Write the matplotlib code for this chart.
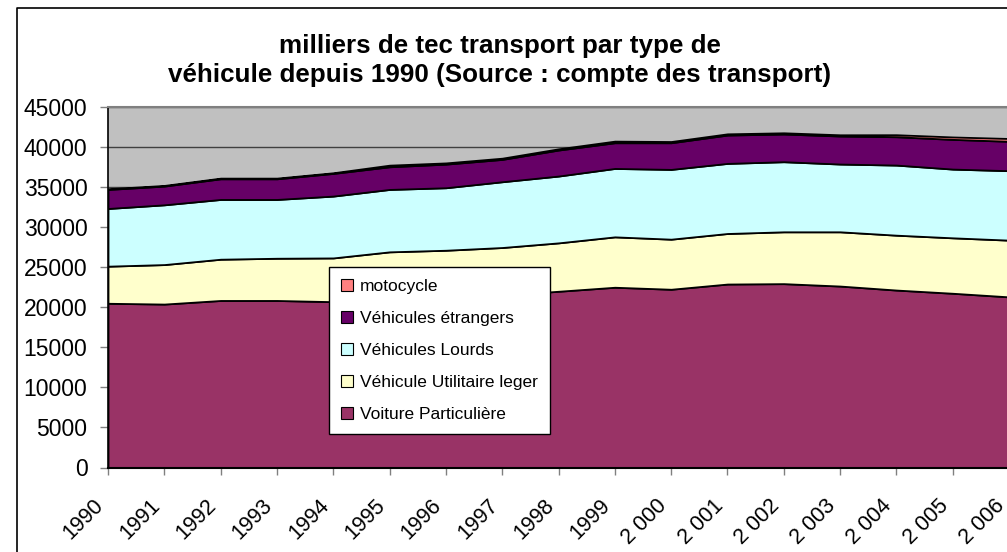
import matplotlib
matplotlib.use("Agg")
import matplotlib.pyplot as plt
from matplotlib.patches import Patch
from matplotlib.lines import Line2D
import matplotlib.transforms as mtransforms

plt.rcParams['font.family'] = ['Liberation Sans', 'DejaVu Sans']

years = ["1990", "1991", "1992", "1993", "1994", "1995", "1996", "1997", "1998",
         "1999", "2 000", "2 001", "2 002", "2 003", "2 004", "2 005", "2 006"]

voiture_particuliere = [20500, 20400, 20850, 20850, 20700, 20900, 21100, 21500, 22000,
                        22500, 22250, 22900, 22950, 22650, 22150, 21750, 21300]
vehicule_utilitaire = [4630, 4930, 5150, 5270, 5460, 6020, 6020, 5960, 6040,
                       6290, 6250, 6310, 6470, 6770, 6850, 6920, 7080]
vehicules_lourds = [7200, 7460, 7460, 7340, 7720, 7790, 7800, 8210, 8340,
                    8540, 8710, 8750, 8750, 8460, 8750, 8580, 8670]
vehicules_etrangers = [2380, 2340, 2580, 2580, 2830, 2830, 2950, 2790, 3250,
                       3210, 3330, 3540, 3460, 3500, 3540, 3710, 3670]
motocycle = [80, 80, 80, 80, 80, 200, 150, 150, 150,
             200, 150, 150, 150, 150, 250, 300, 350]

series_names = ["Voiture Particulière", "Véhicule Utilitaire leger", "Véhicules Lourds",
                "Véhicules étrangers", "motocycle"]
series_colors = ["#993366", "#FFFFCC", "#CCFFFF", "#660066", "#FF8080"]

title = "milliers de tec transport par type de\nvéhicule depuis 1990 (Source : compte des transport)"

W, H = 1007, 552
fig = plt.figure(figsize=(W / 100, H / 100), dpi=100)
fig.patch.set_facecolor("white")

# plot area in pixel coords: left 108, right 1009, top 107, bottom 467.5
ax = fig.add_axes([108 / W, (H - 467.5) / H, (1009 - 108) / W, (467.5 - 107) / H])
ax.set_facecolor("#C0C0C0")

x = list(range(len(years)))
ax.stackplot(x, voiture_particuliere, vehicule_utilitaire, vehicules_lourds,
             vehicules_etrangers, motocycle, colors=series_colors,
             edgecolor="black", linewidth=1.3, zorder=2)

ax.set_xlim(0, len(years) - 1)
ax.set_ylim(0, 45000)
ax.set_yticks(range(0, 45001, 5000))
ax.set_yticklabels([str(v) for v in range(0, 45001, 5000)], fontsize=16.5)
ax.yaxis.grid(True, color="#404040", linewidth=1, zorder=1)
ax.set_axisbelow(True)

ax.set_xticks(x)
ax.set_xticklabels(years, fontsize=15.5, rotation=45, ha="right", va="top")
offset = mtransforms.ScaledTranslation(-8 / 100, 0, fig.dpi_scale_trans)
for lbl in ax.get_xticklabels():
    lbl.set_transform(lbl.get_transform() + offset)

ax.tick_params(axis="x", direction="out", length=5, width=1, color="#808080", pad=15)
ax.tick_params(axis="y", direction="out", length=5.8, width=1, color="#808080", pad=9)

ax.spines["right"].set_visible(False)
ax.spines["top"].set_color("#808080")
ax.spines["top"].set_linewidth(1.5)
ax.spines["left"].set_color("black")
ax.spines["left"].set_linewidth(1.2)
ax.spines["bottom"].set_color("black")
ax.spines["bottom"].set_linewidth(1.5)

# chart area border (left and top visible)
fig.add_artist(Line2D([17 / W, 17 / W, 1.01], [-0.01, 1 - 8 / H, 1 - 8 / H],
                      transform=fig.transFigure, color="black", linewidth=1.2))

fig.text(500 / W, 1 - 60.5 / H, title, ha="center", va="center", fontsize=18.7,
         fontweight="bold", linespacing=1.3)

handles = [Patch(facecolor=c, edgecolor="black", linewidth=0.8) for c in series_colors]
leg = fig.legend(handles[::-1], series_names[::-1], loc="upper left",
                 bbox_to_anchor=(329 / W, 1 - 267 / H), fontsize=12.5,
                 frameon=True, fancybox=False, framealpha=1, edgecolor="black",
                 handlelength=0.7, handleheight=0.7, handletextpad=0.4,
                 labelspacing=0.97, borderpad=0.7, borderaxespad=0)
leg.get_frame().set_linewidth(1)

fig.savefig("out.png", dpi=100)
